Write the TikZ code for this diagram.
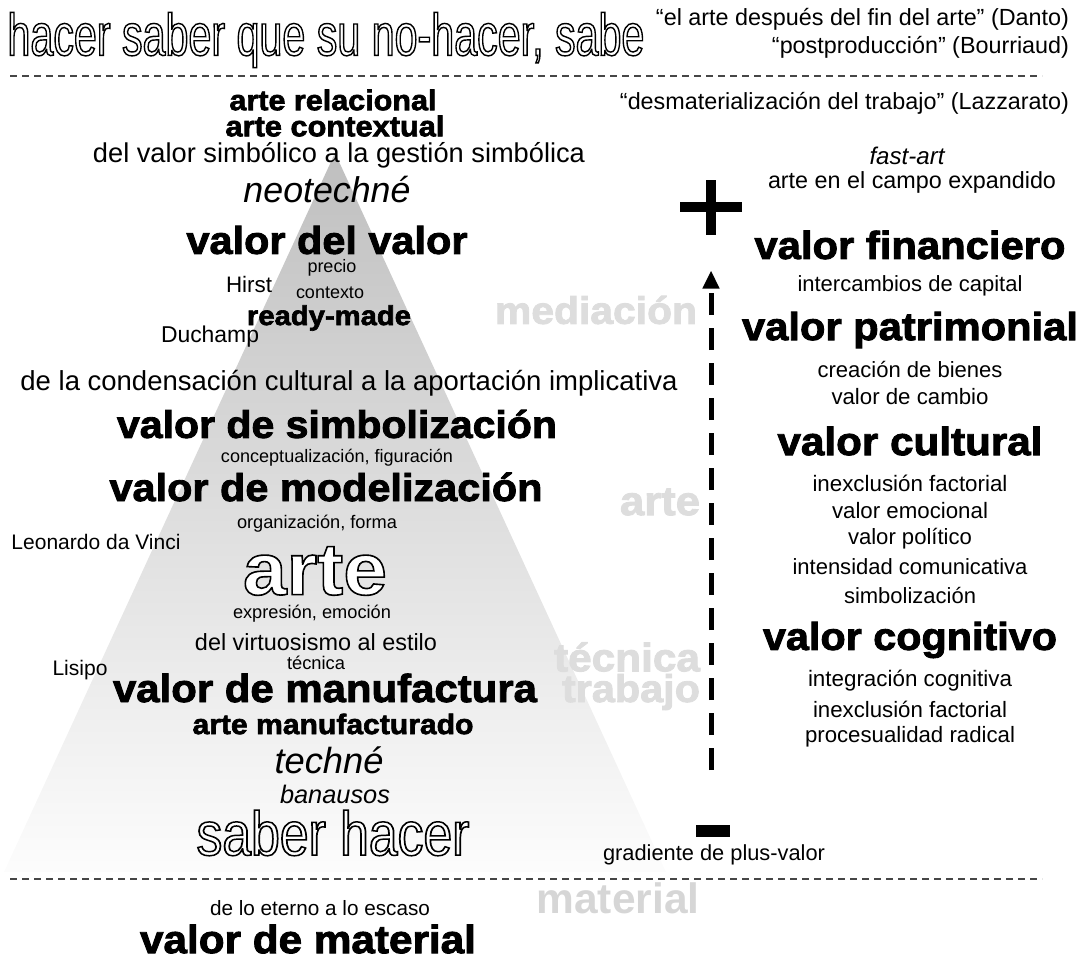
\documentclass[tikz,border=0pt]{standalone}
\usepackage{fontspec}
\setmainfont{Liberation Sans}
\newfontfamily\heavyfont{Liberation Sans}[FakeStretch=1.07,BoldFeatures={FakeBold=2.3}]
\newfontfamily\outlnarrow{Liberation Sans}[FakeStretch=0.72,FakeBold=2.4]
\newfontfamily\outlheavy{Liberation Sans Bold}[FakeStretch=1.08,FakeBold=2.2]
\usepackage{graphicx}
\usetikzlibrary{arrows.meta}
\definecolor{lightlab}{RGB}{221,221,221}
\definecolor{matlab}{RGB}{214,214,214}
\definecolor{sepgray}{RGB}{70,70,70}
\newcommand\W[2]{\resizebox{#1pt}{!}{#2}}
\newcommand\WH[3]{\resizebox{#1pt}{#2pt}{#3}}
\newcommand\hollow[1]{\special{pdf:bcolor [1] [0]}#1\special{pdf:ecolor}}
\begin{document}
\begin{tikzpicture}[x=1pt,y=-1pt,
  every node/.style={inner sep=0pt,outer sep=0pt},
  reg/.style={font=\fontsize{20}{24}\selectfont},
  ital/.style={font=\itshape\fontsize{24}{28}\selectfont},
  bld/.style={font=\bfseries\fontsize{36}{40}\selectfont},
  hv/.style={font=\heavyfont\bfseries\fontsize{34}{40}\selectfont},
  hvlight/.style={hv,text=lightlab},
  sepline/.style={draw=sepgray,line width=1.4pt,dash pattern=on 7pt off 5pt},
  gradarrow/.style={line width=5pt,dash pattern=on 22pt off 13pt,-{Triangle[width=16pt,length=18pt]}}
]
\useasboundingbox (0,0) rectangle (1083,959);
% pyramid
\shade[top color=black!25,middle color=black!15,bottom color=black!1] (335,153) -- (666,872) -- (4,872) -- cycle;
% separators
\draw[sepline] (10,76) -- (1042,76);
\draw[sepline] (10,879) -- (1042,879);
% title and quotes
\node[font=\outlnarrow\fontsize{60}{64}\selectfont] (title) at (326,40) {\WH{637}{43}{\hollow{hacer saber que su no-hacer, sabe}}};
\node[reg,anchor=east] (danto) at (1069,19) {\W{413}{“el arte después del fin del arte” (Danto)}};
\node[reg,anchor=east] (bourr) at (1069,47) {\W{297}{“postproducción” (Bourriaud)}};
\node[reg,anchor=east] (lazz) at (1069,103) {\W{449}{“desmaterialización del trabajo” (Lazzarato)}};
% left column
\node[hv] (relac) at (333,100) {\W{207}{arte relacional}};
\node[hv] (context) at (335,126) {\W{219}{arte contextual}};
\node[reg] (gestion) at (339,155) {\W{492}{del valor simbólico a la gestión simbólica}};
\node[ital] (neotechne) at (327,190) {\W{167}{neotechné}};
\node[hv] (vvalor) at (327,240) {\W{281}{valor del valor}};
\node[reg] (precio) at (332,268) {\W{49}{precio}};
\node[reg] (hirst) at (249,284) {\W{46}{Hirst}};
\node[reg] (contexto) at (330,293) {\W{68}{contexto}};
\node[hv] (ready) at (329,318) {\W{164}{ready-made}};
\node[reg] (duchamp) at (210,337) {\W{98}{Duchamp}};
\node[hvlight] (mediacion) at (596,310) {\W{202}{mediación}};
\node[reg] (condens) at (349,383) {\W{657}{de la condensación cultural a la aportación implicativa}};
\node[hv] (vsimb) at (337,424) {\W{440}{valor de simbolización}};
\node[reg] (concept) at (337,458) {\W{232}{conceptualización, figuración}};
\node[hv] (vmodel) at (326,487) {\W{433}{valor de modelización}};
\node[reg] (organiz) at (317,524) {\W{160}{organización, forma}};
\node[reg] (leonardo) at (96,542) {\W{169}{Leonardo da Vinci}};
\node[hvlight] (artelab) at (660,502) {\W{80}{arte}};
\node[font=\outlheavy\fontsize{60}{64}\selectfont] (arteout) at (315,571) {\WH{144}{48}{\hollow{arte}}};
\node[reg] (expres) at (312,614) {\W{158}{expresión, emoción}};
\node[reg] (virtuos) at (316,642) {\W{242}{del virtuosismo al estilo}};
\node[reg] (tecsmall) at (316,663) {\W{58}{técnica}};
\node[reg] (lisipo) at (80,670) {\W{55}{Lisipo}};
\node[hvlight] (teclab) at (627,657) {\W{146}{técnica}};
\node[hvlight] (trablab) at (631,692) {\W{138}{trabajo}};
\node[hv] (vmanuf) at (325,688) {\W{424}{valor de manufactura}};
\node[hv] (artemanuf) at (333,724) {\W{281}{arte manufacturado}};
\node[ital] (techne) at (329,760) {\W{109}{techné}};
\node[ital] (banausos) at (335,794) {\W{110}{banausos}};
\node[font=\outlnarrow\fontsize{60}{64}\selectfont] (saber) at (333,833) {\WH{273}{45}{\hollow{saber hacer}}};
\node[reg] (gradiente) at (714,855) {\W{222}{gradiente de plus-valor}};
\node[bld,text=matlab] (matlab) at (618,898) {\W{163}{material}};
\node[reg] (eterno) at (320,908) {\W{220}{de lo eterno a lo escaso}};
\node[hv] (vmaterial) at (308,939) {\W{336}{valor de material}};
% right column
\node[ital] (fastart) at (907,156) {\W{75}{fast-art}};
\node[reg] (campo) at (912,182) {\W{288}{arte en el campo expandido}};
\node[hv] (vfin) at (910,245) {\W{311}{valor financiero}};
\node[reg] (interc) at (910,286) {\W{225}{intercambios de capital}};
\node[hv] (vpatr) at (910,330) {\W{336}{valor patrimonial}};
\node[reg] (bienes) at (910,369) {\W{185}{creación de bienes}};
\node[reg] (cambio) at (910,397) {\W{157}{valor de cambio}};
\node[hv] (vcult) at (910,441) {\W{265}{valor cultural}};
\node[reg] (inex1) at (910,483) {\W{195}{inexclusión factorial}};
\node[reg] (emoc) at (910,511) {\W{156}{valor emocional}};
\node[reg] (polit) at (910,539) {\W{124}{valor político}};
\node[reg] (intens) at (910,567) {\W{235}{intensidad comunicativa}};
\node[reg] (simbz) at (910,595) {\W{132}{simbolización}};
\node[hv] (vcogn) at (910,640) {\W{294}{valor cognitivo}};
\node[reg] (integ) at (910,681) {\W{204}{integración cognitiva}};
\node[reg] (inex2) at (910,709) {\W{194}{inexclusión factorial}};
\node[reg] (proces) at (910,737) {\W{210}{procesualidad radical}};
% plus / minus / gradient arrow
\node[minimum width=62pt,minimum height=55pt] (plus) at (711,207) {};
\fill ([yshift=5pt]plus.west) rectangle ([yshift=-5pt]plus.east);
\fill ([xshift=-5pt]plus.north) rectangle ([xshift=5pt]plus.south);
\node[fill=black,minimum width=34pt,minimum height=12pt] (minus) at (713,831) {};
\draw[gradarrow,shorten <=55pt,shorten >=36pt] (minus.north -| plus.south) -- (plus.south);
\end{tikzpicture}
\end{document}
